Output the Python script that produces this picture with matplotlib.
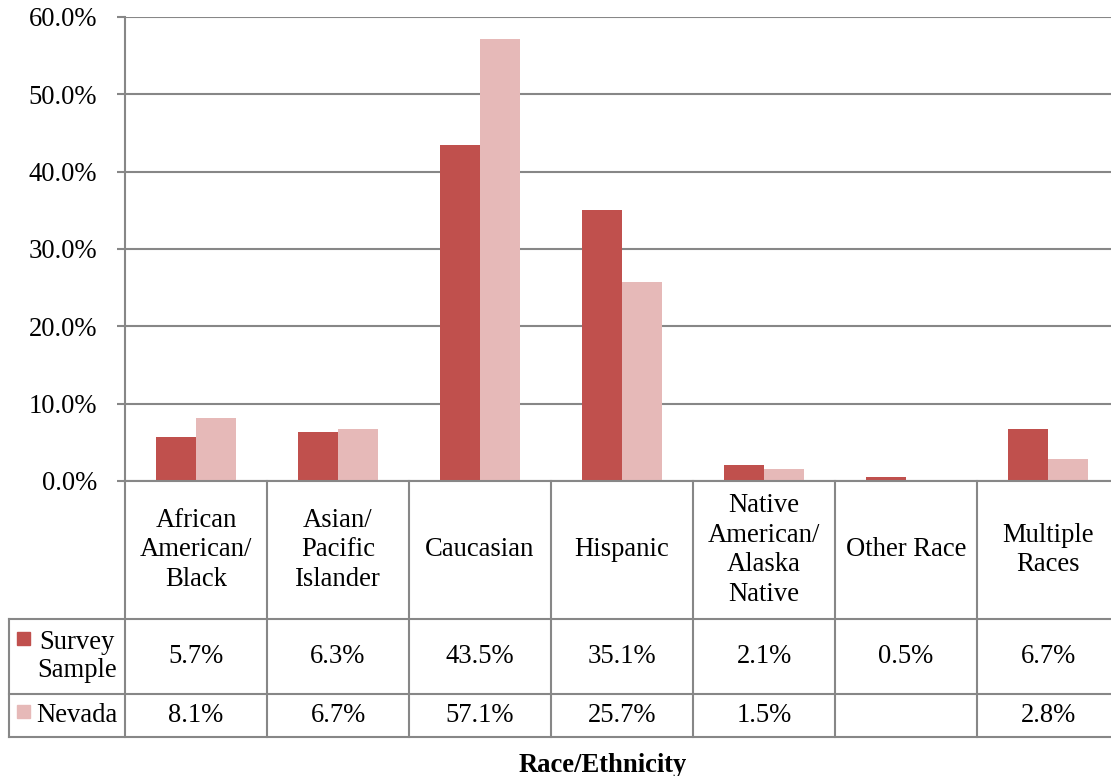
import numpy as np
import matplotlib
matplotlib.use("Agg")
from matplotlib import pyplot as plt
from matplotlib.transforms import blended_transform_factory
from matplotlib.patches import Rectangle

#data
categories = ["African\nAmerican/\nBlack", "Asian/\nPacific\nIslander", "Caucasian",
              "Hispanic", "Native\nAmerican/\nAlaska\nNative", "Other Race",
              "Multiple\nRaces"]
survey_sample = [5.7, 6.3, 43.5, 35.1, 2.1, 0.5, 6.7]
nevada = [8.1, 6.7, 57.1, 25.7, 1.5, None, 2.8]
series_names = ["Survey\nSample", "Nevada"]
yticks = [0, 10, 20, 30, 40, 50, 60]

#style
survey_color = "#C0504D"
nevada_color = "#E6B9B8"
line_color = "#878787"
plt.rcParams["font.family"] = ["Liberation Serif", "DejaVu Serif"]
fs = 19.2

W, H = 1111, 776
fig = plt.figure(figsize=(W / 100, H / 100), dpi=100)

def fy(py):
    # pixel row from top -> figure fraction
    return 1 - py / H

ax_left, ax_right, ax_top, ax_bot = 125, 1119, 17, 481
ax = fig.add_axes([ax_left / W, fy(ax_bot), (ax_right - ax_left) / W, (ax_bot - ax_top) / H])

x = np.arange(len(categories))
bw = 0.285
nev_vals = [np.nan if v is None else v for v in nevada]
ax.bar(x - bw / 2, survey_sample, bw, color=survey_color, zorder=3)
ax.bar(x + bw / 2, nev_vals, bw, color=nevada_color, zorder=3)

ax.set_xlim(-0.5, len(categories) - 0.5)
ax.set_ylim(0, 60)
ax.set_yticks(yticks)
ax.set_yticklabels([f"{t:.1f}%" for t in yticks], fontsize=fs)
ax.set_xticks([])
ax.yaxis.grid(True, color=line_color, linewidth=1.5, zorder=0)
ax.tick_params(axis="y", length=6, width=1.5, color=line_color, pad=14)
for side in ["top", "right", "bottom"]:
    ax.spines[side].set_visible(False)
ax.spines["left"].set_color(line_color)
ax.spines["left"].set_linewidth(1.5)

#data table under the plot
tr = blended_transform_factory(ax.transData, fig.transFigure)
row_edges = [ax_bot, 619, 694, 737]
lw = 1.5
left_px = 9
# horizontal lines
ax.plot([-0.5, len(categories) - 0.5], [fy(ax_bot)] * 2, transform=tr, color=line_color,
        lw=lw, clip_on=False, zorder=4)
for py in row_edges[1:]:
    fig.add_artist(plt.Line2D([left_px / W, 1], [fy(py)] * 2, color=line_color, lw=lw))
# vertical lines
for i in range(len(categories) + 1):
    ax.plot([i - 0.5] * 2, [fy(row_edges[0]), fy(row_edges[-1])], transform=tr,
            color=line_color, lw=lw, clip_on=False)
fig.add_artist(plt.Line2D([left_px / W] * 2, [fy(row_edges[1]), fy(row_edges[-1])],
                          color=line_color, lw=lw))

# category headers
for i, cat in enumerate(categories):
    ax.text(i, fy((row_edges[0] + row_edges[1]) / 2), cat, transform=tr, ha="center",
            va="center", fontsize=fs, linespacing=1.24)

# value rows
rows = [survey_sample, nevada]
colors = [survey_color, nevada_color]
for r, (vals, name, col) in enumerate(zip(rows, series_names, colors)):
    yc = fy((row_edges[r + 1] + row_edges[r + 2]) / 2)
    for i, v in enumerate(vals):
        if v is not None:
            ax.text(i, yc, f"{v:.1f}%", transform=tr, ha="center", va="center", fontsize=fs)
    fig.text(77 / W, yc, name, ha="center", va="center", fontsize=fs, linespacing=1.2)

# legend keys
fig.add_artist(Rectangle((17 / W, fy(645)), 13 / W, 13 / H, color=survey_color,
                         transform=fig.transFigure))
fig.add_artist(Rectangle((17 / W, fy(718)), 13 / W, 13 / H, color=nevada_color,
                         transform=fig.transFigure))

fig.text(603 / W, fy(765), "Race/Ethnicity", ha="center", va="center", fontsize=fs,
         fontweight="bold")

fig.savefig("out.png", dpi=100)
